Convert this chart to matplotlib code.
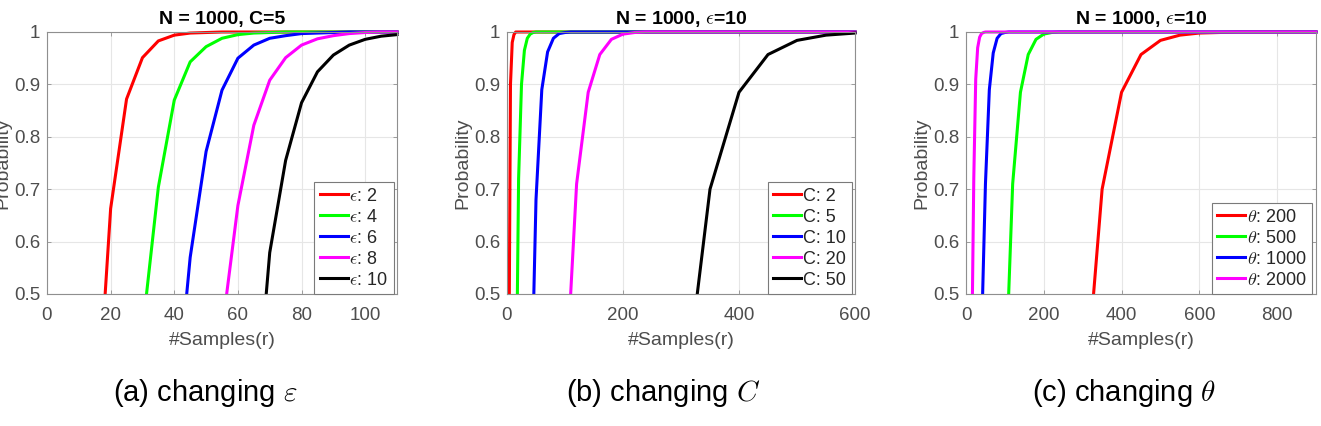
import numpy as np
import matplotlib
matplotlib.use('Agg')
import matplotlib.pyplot as plt
from matplotlib.patches import Rectangle

plt.rcParams['font.family'] = ['Liberation Sans', 'DejaVu Sans']
plt.rcParams['mathtext.fontset'] = 'cm'

# (a) changing epsilon, N = 1000, C = 5
xa = [15, 20, 25, 30, 35, 40, 45, 50, 55, 60, 65, 70, 75, 80, 85, 90, 95, 100, 105, 110]
eps2 = [0.19, 0.663, 0.872, 0.951, 0.983, 0.994, 0.998, 0.999, 1.0, 1.0,
        1.0, 1.0, 1.0, 1.0, 1.0, 1.0, 1.0, 1.0, 1.0, 1.0]
eps4 = [0.0, 0.0, 0.0, 0.43, 0.704, 0.870, 0.943, 0.972, 0.988, 0.995,
        0.998, 0.999, 1.0, 1.0, 1.0, 1.0, 1.0, 1.0, 1.0, 1.0]
eps6 = [0.0, 0.0, 0.0, 0.0, 0.0, 0.25, 0.57, 0.772, 0.889, 0.950,
        0.975, 0.988, 0.993, 0.997, 0.998, 0.999, 1.0, 1.0, 1.0, 1.0]
eps8 = [0.0, 0.0, 0.0, 0.0, 0.0, 0.0, 0.0, 0.0, 0.43, 0.669,
        0.822, 0.908, 0.951, 0.975, 0.987, 0.993, 0.997, 0.999, 1.0, 1.0]
eps10 = [0.0, 0.0, 0.0, 0.0, 0.0, 0.0, 0.0, 0.0, 0.0, 0.0,
         0.22, 0.579, 0.755, 0.865, 0.924, 0.956, 0.975, 0.986, 0.992, 0.995]
labels_a = [r'$\epsilon$: 2', r'$\epsilon$: 4', r'$\epsilon$: 6', r'$\epsilon$: 8', r'$\epsilon$: 10']

# (b) changing C, N = 1000, eps = 10
c2_x = [0, 3, 6, 9, 12, 15, 600]
c2_y = [0.0, 0.3, 0.9, 0.98, 0.995, 1.0, 1.0]
c5_x = [15, 20, 25, 30, 35, 40, 45, 50, 600]
c5_y = [0.2, 0.72, 0.9, 0.965, 0.988, 0.996, 0.999, 1.0, 1.0]
c10_x = [40, 50, 60, 70, 80, 90, 100, 110, 600]
c10_y = [0.2, 0.68, 0.89, 0.962, 0.988, 0.997, 0.999, 1.0, 1.0]
c20_x = [100, 120, 140, 160, 180, 200, 220, 240, 600]
c20_y = [0.3, 0.71, 0.885, 0.957, 0.986, 0.996, 0.999, 1.0, 1.0]
c50_x = [300, 350, 400, 450, 500, 550, 600]
c50_y = [0.245, 0.70, 0.885, 0.957, 0.984, 0.994, 0.998]
labels_b = ['C: 2', 'C: 5', 'C: 10', 'C: 20', 'C: 50']

# (c) changing theta, N = 1000, eps = 10
t200_x = [300, 350, 400, 450, 500, 550, 600, 650, 700, 900]
t200_y = [0.245, 0.70, 0.885, 0.957, 0.984, 0.994, 0.998, 0.999, 1.0, 1.0]
t500_x = [100, 120, 140, 160, 180, 200, 220, 240, 900]
t500_y = [0.3, 0.71, 0.885, 0.957, 0.986, 0.996, 0.999, 1.0, 1.0]
t1000_x = [40, 50, 60, 70, 80, 90, 100, 110, 900]
t1000_y = [0.42, 0.71, 0.89, 0.96, 0.988, 0.997, 0.999, 1.0, 1.0]
t2000_x = [15, 20, 25, 30, 35, 40, 45, 50, 900]
t2000_y = [0.4, 0.72, 0.91, 0.97, 0.99, 0.997, 0.999, 1.0, 1.0]
labels_c = [r'$\theta$: 200', r'$\theta$: 500', r'$\theta$: 1000', r'$\theta$: 2000']

titles = ['N = 1000, C=5', r'N = 1000, $\epsilon$=10', r'N = 1000, $\epsilon$=10']
captions = [r'(a) changing $\varepsilon$', r'(b) changing $C$', r'(c) changing $\theta$']

W, H = 1321, 426
fig = plt.figure(figsize=(W / 100, H / 100), dpi=100)

boxes = [(47, 397), (507, 855), (966, 1316)]
cap_x = [205, 663, 1124]
top, bottom = 32, 294
axes = []
for l, r in boxes:
    ax = fig.add_axes([l / W, 1 - bottom / H, (r - l) / W, (bottom - top) / H])
    axes.append(ax)

tick_col = '#4d4d4d'
spine_col = '#8f8f8f'


def style(ax, xlim, xticks, title):
    ax.set_xlim(*xlim)
    ax.set_ylim(0.5, 1.0)
    ax.set_xticks(xticks)
    ax.set_yticks([0.5, 0.6, 0.7, 0.8, 0.9, 1.0])
    ax.set_yticklabels(['0.5', '0.6', '0.7', '0.8', '0.9', '1'])
    ax.grid(True, color='#e6e6e6', linewidth=0.8)
    ax.set_axisbelow(True)
    ax.tick_params(direction='in', length=3, width=0.6, top=True, right=True,
                   labelsize=13.5, colors=spine_col, labelcolor=tick_col)
    ax.tick_params(axis='x', pad=9)
    ax.tick_params(axis='y', pad=5)
    for s in ax.spines.values():
        s.set_color(spine_col)
        s.set_linewidth(0.8)
    ax.set_title(title, fontsize=14, fontweight='bold', pad=6)
    ax.set_xlabel('#Samples(r)', fontsize=14, color=tick_col, labelpad=6)
    ax.set_ylabel('Probability', fontsize=14, color=tick_col, labelpad=2)


def draw(ax, x, y, c, lab):
    ln, = ax.plot(x, y, color=c, linewidth=2.2, label=lab)
    ln.set_clip_path(Rectangle((-0.01, 0), 1.02, 1.03, transform=ax.transAxes))


def legend(ax):
    leg = ax.legend(loc='lower right', fontsize=13, fancybox=False, framealpha=1,
                    edgecolor='#7a7a7a', borderaxespad=0.0, handlelength=1.55,
                    handletextpad=0.1, labelspacing=0.22, borderpad=0.3,
                    bbox_to_anchor=(0.99, 0.0))
    leg.get_frame().set_linewidth(0.8)
    for t in leg.get_texts():
        t.set_color('#262626')


ax = axes[0]
for y, c, lab in zip([eps2, eps4, eps6, eps8, eps10], ['#ff0000', '#00ff00', '#0000ff', '#ff00ff', '#000000'], labels_a):
    draw(ax, xa, y, c, lab)
style(ax, (0, 110), [0, 20, 40, 60, 80, 100], titles[0])
legend(ax)

ax = axes[1]
for x, y, c, lab in zip([c2_x, c5_x, c10_x, c20_x, c50_x], [c2_y, c5_y, c10_y, c20_y, c50_y],
                        ['#ff0000', '#00ff00', '#0000ff', '#ff00ff', '#000000'], labels_b):
    draw(ax, x, y, c, lab)
style(ax, (0, 600), [0, 200, 400, 600], titles[1])
legend(ax)

ax = axes[2]
for x, y, c, lab in zip([t200_x, t500_x, t1000_x, t2000_x], [t200_y, t500_y, t1000_y, t2000_y],
                        ['#ff0000', '#00ff00', '#0000ff', '#ff00ff'], labels_c):
    draw(ax, x, y, c, lab)
style(ax, (0, 900), [0, 200, 400, 600, 800], titles[2])
legend(ax)

for cx, cap in zip(cap_x, captions):
    fig.text(cx / W, 1 - 393 / H, cap, ha='center', va='center', fontsize=21)

fig.savefig('out.png', dpi=100)
